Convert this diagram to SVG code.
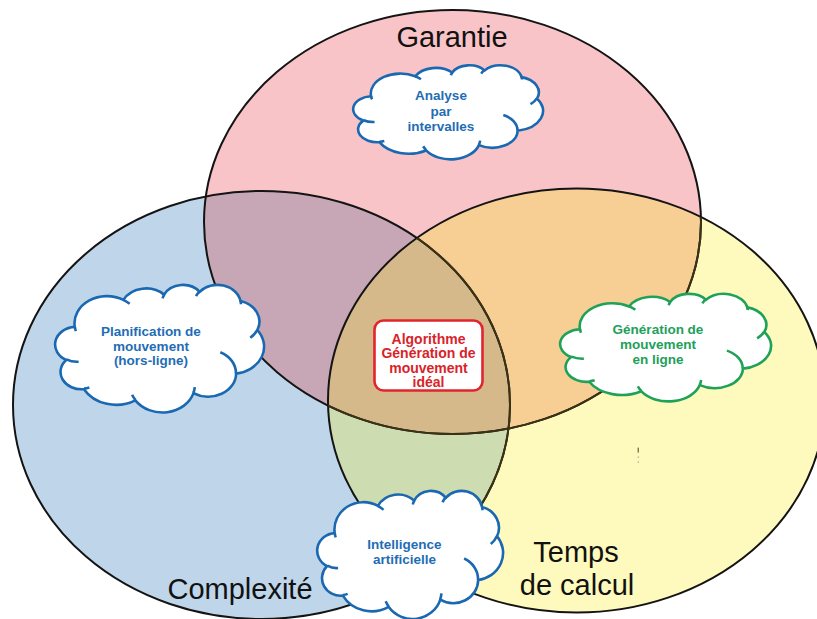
<svg xmlns="http://www.w3.org/2000/svg" width="817" height="619" viewBox="0 0 817 619">
  <style>
    .outline{fill:none;stroke:#141414;stroke-width:2}
    .tint{fill:none;stroke:#3b3215;stroke-width:2}
    .blue{stroke:#1b68b2}
    .green{stroke:#1fa258}
    .lbl{font-family:"Liberation Sans",Arial,sans-serif;font-size:29px;fill:#111;text-anchor:middle}
    .ct{font-family:"Liberation Sans",Arial,sans-serif;font-size:13.5px;font-weight:bold;text-anchor:middle}
    .tb{fill:#1f6db5}
    .tg{fill:#22a05a}
    .tr{fill:#d8232a;font-size:14px}
  </style>
  <defs>
    <ellipse id="e-garantie" cx="452.5" cy="222" rx="248.5" ry="212"/>
    <ellipse id="e-complexite" cx="261.5" cy="405" rx="248.5" ry="214"/>
    <ellipse id="e-temps" cx="576.5" cy="400.5" rx="248.5" ry="212"/>
    <clipPath id="clip-garantie"><use href="#e-garantie"/></clipPath>
    <clipPath id="clip-complexite"><use href="#e-complexite"/></clipPath>
    <clipPath id="clip-temps"><use href="#e-temps"/></clipPath>
    <!-- cloud outline in a 43200 x 43200 box -->
    <path id="cloud-body" fill="#fff" stroke-width="2.6" vector-effect="non-scaling-stroke"
      d="M3900 14370 A6753 9190 0 0 1 14004 5200 A5333 7267 0 0 1 22454 3430 A4365 5945 0 0 1 29831 2479 A4857 6595 0 0 1 38317 5574 A5333 7273 0 0 1 41817 15458 A6775 9220 0 0 1 37404 30202 A5785 7867 0 0 1 28555 36812 A6752 9215 0 0 1 16480 39264 A7720 10543 0 0 1 5804 35471 A4360 5918 0 0 1 2113 25550 A4345 5945 0 0 1 3900 14370 Z"/>
    <!-- inner fold strokes of the cloud -->
    <path id="cloud-folds" fill="none" stroke-width="2.6" vector-effect="non-scaling-stroke"
      d="M4693 26177 A4345 5945 0 0 1 2159 25380 M6928 34899 A4360 5918 0 0 1 5819 35281 M16478 39090 A6752 9215 0 0 1 15810 37349 M28827 34751 A6752 9215 0 0 1 28560 36660 M34129 22954 A5785 7867 0 0 1 37381 30090 M41798 15354 A5333 7273 0 0 1 40351 18029 M38324 5426 A4857 6595 0 0 1 38400 6690 M29078 3952 A4857 6595 0 0 1 29820 2340 M22141 4720 A4365 5945 0 0 1 22500 3330 M14000 5192 A6753 9190 0 0 1 15302 6543 M4127 15789 A6753 9190 0 0 1 3900 14371"/>
  </defs>

  <!-- Venn sets -->
  <g id="sets">
    <use href="#e-garantie" fill="#f8c4c7"/>
    <use href="#e-complexite" fill="#bfd6ea"/>
    <use href="#e-temps" fill="#fef9bc"/>
    <use href="#e-complexite" fill="#c7a7b5" clip-path="url(#clip-garantie)"/>
    <use href="#e-temps" fill="#f7cf95" clip-path="url(#clip-garantie)"/>
    <use href="#e-temps" fill="#cddcb1" clip-path="url(#clip-complexite)"/>
    <g clip-path="url(#clip-complexite)">
      <use href="#e-temps" fill="#d5b98b" clip-path="url(#clip-garantie)"/>
    </g>
    <use href="#e-garantie" class="outline"/>
    <use href="#e-complexite" class="outline"/>
    <use href="#e-temps" class="outline"/>
    <g clip-path="url(#clip-temps)">
      <use href="#e-garantie" class="tint"/>
      <use href="#e-complexite" class="tint"/>
    </g>
  </g>

  <!-- small stray mark -->
  <g id="mark" fill="#7a6a48">
    <rect x="637.6" y="447.6" width="1.3" height="5"/>
    <rect x="637.8" y="456.6" width="0.9" height="1"/>
    <rect x="637.8" y="461.6" width="0.9" height="1"/>
  </g>

  <g id="cloud-analyse">
    <g class="blue" transform="translate(354 65) scale(0.004375 0.0021759)">
      <use href="#cloud-body"/>
      <use href="#cloud-folds"/>
    </g>
    <text class="ct tb" x="441" y="100">Analyse</text>
    <text class="ct tb" x="441" y="115.5">par</text>
    <text class="ct tb" x="441" y="131">intervalles</text>
  </g>

  <g id="cloud-planification">
    <g class="blue" transform="translate(56 284.5) scale(0.0048148 0.0029514)">
      <use href="#cloud-body"/>
      <use href="#cloud-folds"/>
    </g>
    <text class="ct tb" x="151" y="336">Planification de</text>
    <text class="ct tb" x="151" y="350.5">mouvement</text>
    <text class="ct tb" x="151" y="365">(hors-ligne)</text>
  </g>

  <g id="cloud-generation">
    <g class="green" transform="translate(561 293.5) scale(0.0048611 0.0024884)">
      <use href="#cloud-body"/>
      <use href="#cloud-folds"/>
    </g>
    <text class="ct tg" x="658" y="334">Génération de</text>
    <text class="ct tg" x="658" y="349">mouvement</text>
    <text class="ct tg" x="658" y="363.5">en ligne</text>
  </g>

  <g id="cloud-ia">
    <g class="blue" transform="translate(318 490.5) scale(0.0042824 0.002963)">
      <use href="#cloud-body"/>
      <use href="#cloud-folds"/>
    </g>
    <text class="ct tb" x="404.5" y="549.3">Intelligence</text>
    <text class="ct tb" x="404.5" y="563.5">artificielle</text>
  </g>

  <g id="ideal">
    <rect x="374.5" y="320.5" width="108" height="70" rx="9" fill="#fff" stroke="#e2252c" stroke-width="2.6"/>
    <text class="ct tr" x="428.5" y="343.5">Algorithme</text>
    <text class="ct tr" x="428.5" y="358">Génération de</text>
    <text class="ct tr" x="428.5" y="372.5">mouvement</text>
    <text class="ct tr" x="428.5" y="387">idéal</text>
  </g>

  <g id="labels">
    <text class="lbl" x="452" y="47">Garantie</text>
    <text class="lbl" x="240" y="598.5">Complexité</text>
    <text class="lbl" x="576" y="562">Temps</text>
    <text class="lbl" x="577" y="594.5">de calcul</text>
  </g>
</svg>
